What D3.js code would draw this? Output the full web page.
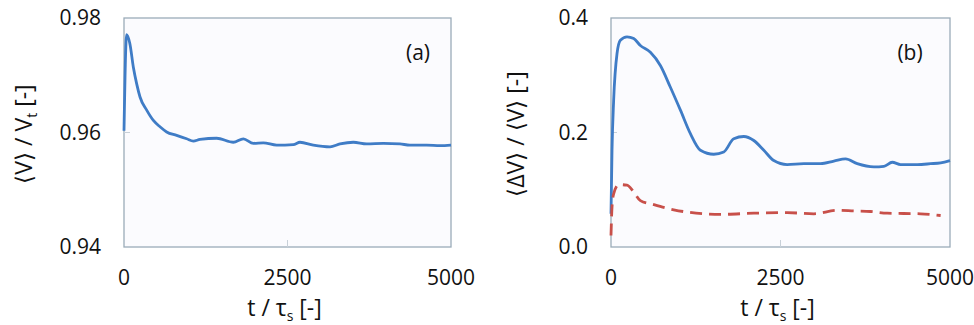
<!DOCTYPE html>
<html>
<head>
<meta charset="utf-8">
<script src="https://cdn.jsdelivr.net/npm/d3@7"></script>
<style>
  body { margin: 0; background: #fff; }
  svg text { font-family: "Open Sans", "Noto Sans", sans-serif; fill: #111; }
</style>
</head>
<body>
<div id="chart"></div>
<script>
// panel (a): mean velocity
var tA = [0, 40, 90, 143, 194, 245, 347, 449, 550, 652, 805, 958, 1060, 1162, 1417, 1672, 1825, 1978, 2130, 2334, 2589, 2691, 2895, 3150, 3303, 3507, 3711, 3966, 4220, 4373, 4628, 4832, 5000];
var vA = [0.9603, 0.9771, 0.9755, 0.9714, 0.9685, 0.9662, 0.9639, 0.9621, 0.9610, 0.9601, 0.9595, 0.9589, 0.9585, 0.9588, 0.9590, 0.9583, 0.9589, 0.9581, 0.9582, 0.9578, 0.9579, 0.9583, 0.9578, 0.9575, 0.9580, 0.9583, 0.9580, 0.9581, 0.9580, 0.9578, 0.9578, 0.9577, 0.9578];

// panel (b): velocity fluctuation, solid and dashed series
var tB1 = [0, 15, 39, 89, 138, 236, 335, 433, 581, 728, 876, 1024, 1171, 1319, 1516, 1663, 1811, 1959, 2106, 2254, 2401, 2598, 2844, 3090, 3287, 3459, 3632, 3878, 4025, 4148, 4271, 4517, 4714, 4862, 5000];
var vB1 = [0.058, 0.169, 0.256, 0.338, 0.361, 0.367, 0.364, 0.352, 0.340, 0.317, 0.279, 0.239, 0.198, 0.169, 0.162, 0.166, 0.189, 0.193, 0.186, 0.169, 0.151, 0.144, 0.1455, 0.1455, 0.150, 0.154, 0.1455, 0.140, 0.141, 0.148, 0.144, 0.144, 0.1455, 0.147, 0.151];
var tB2 = [0, 15, 39, 113, 236, 335, 433, 630, 925, 1122, 1614, 2106, 2598, 2992, 3336, 3582, 3828, 4074, 4566, 4862];
var vB2 = [0.020, 0.070, 0.093, 0.109, 0.108, 0.096, 0.081, 0.074, 0.065, 0.061, 0.057, 0.059, 0.060, 0.058, 0.064, 0.063, 0.062, 0.059, 0.058, 0.055];

var xTicks = [0, 2500, 5000];
var yTicksA = [0.94, 0.96, 0.98];
var yTicksB = [0, 0.2, 0.4];

var svg = d3.select("#chart").append("svg").attr("width", 974).attr("height", 325);

function panel(opt) {
    var x = d3.scaleLinear().domain([0, 5000]).range([opt.left, opt.right]);
    var y = d3.scaleLinear().domain(opt.ydom).range([247, 18]);
    var g = svg.append("g");

    g.append("rect")
        .attr("x", opt.left).attr("y", 18)
        .attr("width", opt.right - opt.left).attr("height", 229)
        .attr("fill", "#fbfbfe")
        .attr("stroke", "#9aabb8").attr("stroke-width", 1.3);

    // inner tick marks
    g.selectAll(".yt").data(opt.yticks.slice(1, -1)).enter().append("line")
        .attr("x1", opt.left).attr("x2", opt.left + 6)
        .attr("y1", function (d) { return y(d); }).attr("y2", function (d) { return y(d); })
        .attr("stroke", "#c8d0d8");
    g.selectAll(".xt").data(xTicks.slice(1, -1)).enter().append("line")
        .attr("x1", function (d) { return x(d); }).attr("x2", function (d) { return x(d); })
        .attr("y1", 247).attr("y2", 240)
        .attr("stroke", "#c8d0d8");

    g.selectAll(".yl").data(opt.yticks).enter().append("text")
        .attr("x", opt.left - 23)
        .attr("y", function (d) { return y(d); })
        .attr("dy", "0.35em")
        .attr("text-anchor", "end")
        .attr("font-size", 21)
        .text(opt.yfmt);

    g.selectAll(".xl").data(xTicks).enter().append("text")
        .attr("x", function (d) { return x(d); })
        .attr("y", 278)
        .attr("dy", "0.35em")
        .attr("text-anchor", "middle")
        .attr("font-size", 21)
        .text(function (d) { return d; });

    var xl = g.append("text")
        .attr("x", (opt.left + opt.right) / 2 - 3)
        .attr("y", 316)
        .attr("text-anchor", "middle")
        .attr("font-size", 23);
    xl.append("tspan").text("t / τ");
    xl.append("tspan").attr("font-size", 14).attr("dy", 5).text("s");
    xl.append("tspan").attr("dy", -5).text(" [-]");

    var yl = g.append("text")
        .attr("transform", "translate(" + opt.ylabx + ",134) rotate(-90)")
        .attr("text-anchor", "middle")
        .attr("font-size", 23);
    opt.ylab(yl);

    g.append("text")
        .attr("x", opt.tagx).attr("y", 53)
        .attr("dy", "0.35em")
        .attr("text-anchor", "middle")
        .attr("font-size", 21)
        .text(opt.tag);

    opt.series.forEach(function (s) {
        var line = d3.line()
            .x(function (d, i) { return x(s.t[i]); })
            .y(function (d) { return y(d); })
            .curve(d3.curveMonotoneX);
        g.append("path")
            .attr("d", line(s.v))
            .attr("fill", "none")
            .attr("stroke", s.color)
            .attr("stroke-width", 2.8)
            .attr("stroke-dasharray", s.dash || null);
    });
}

panel({
    left: 124, right: 451, ydom: [0.94, 0.98], yticks: yTicksA,
    yfmt: d3.format(".2f"), ylabx: 32, tagx: 418, tag: "(a)",
    ylab: function (t) {
        t.append("tspan").text("⟨V⟩ / V");
        t.append("tspan").attr("font-size", 14).attr("dy", 5).text("t");
        t.append("tspan").attr("dy", -5).text(" [-]");
    },
    series: [{ t: tA, v: vA, color: "#3f7cc6" }]
});

panel({
    left: 611, right: 950, ydom: [0, 0.4], yticks: yTicksB,
    yfmt: d3.format(".1f"), ylabx: 524, tagx: 910, tag: "(b)",
    ylab: function (t) { t.text("⟨ΔV⟩ / ⟨V⟩ [-]"); },
    series: [
        { t: tB1, v: vB1, color: "#3f7cc6" },
        { t: tB2, v: vB2, color: "#c8504a", dash: "12,7" }
    ]
});
</script>
</body>
</html>
